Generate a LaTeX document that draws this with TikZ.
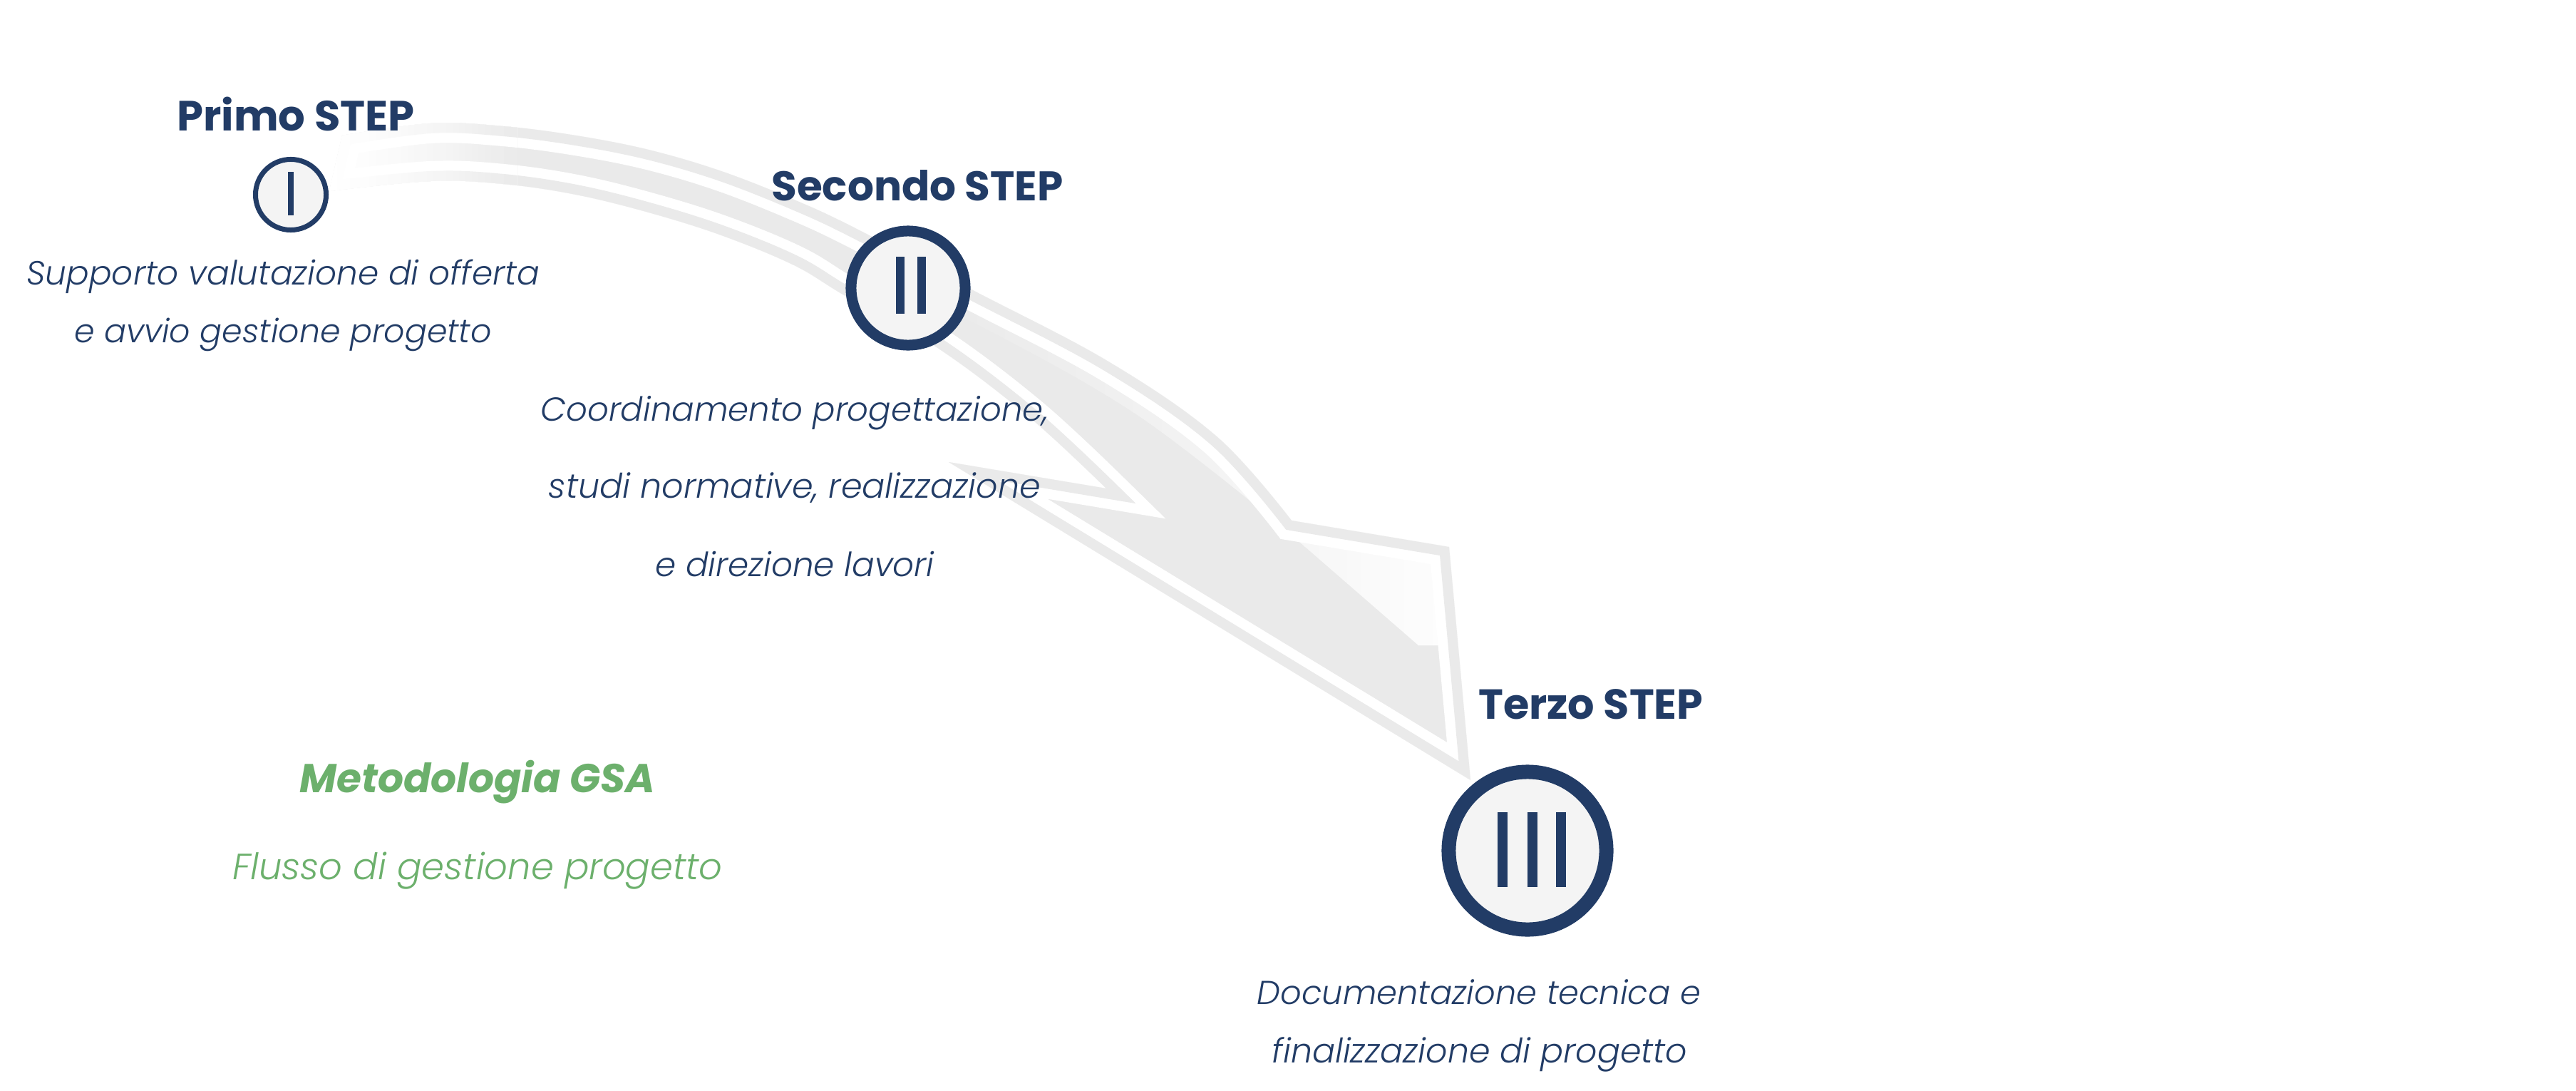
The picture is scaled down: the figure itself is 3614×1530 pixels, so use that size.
\documentclass[tikz,border=0pt]{standalone}
\usepackage{fontspec}
\setmainfont{Poppins}
\newfontfamily\descfont{Poppins Light Italic}
\definecolor{navy}{RGB}{34,60,102}
\definecolor{arrowgray}{RGB}{234,234,234}
\definecolor{circfill}{RGB}{244,244,244}
\definecolor{gsagreen}{RGB}{108,176,108}
\newcommand{\fitw}[2]{\resizebox{#1}{!}{#2}}
\begin{document}
\begin{tikzpicture}[x=0.01cm, y=-0.01cm,
  title/.style={anchor=base, inner sep=0pt, text=navy, font=\bfseries},
  desc/.style={anchor=base, inner sep=0pt, text=navy, font=\descfont},
  gsatitle/.style={anchor=base, inner sep=0pt, text=gsagreen, font=\bfseries\itshape},
  gsadesc/.style={anchor=base, inner sep=0pt, text=gsagreen, font=\descfont},
  ring/.style={circle, draw=navy, fill=circfill, inner sep=0pt},
  bar/.style={fill=navy},
  gapline/.style={white, line width=0.56cm, line join=miter},
  bandline/.style={line width=0.28cm, line join=miter}]
\useasboundingbox (0,0) rectangle (3614,1530);
\fill[white] (0,0) rectangle (3614,1530);

% ---- swoosh arrow ----
\path[save path=\arrowP]
  plot[smooth, tension=0.6] coordinates {(480,190) (604,173) (706,177) (808,190) (910,210) (1012,240) (1114,280) (1200,320) (1361,405) (1555,507) (1708,613) (1812,730)}
  -- (2033,767) -- (2063,1094) -- (1331,648)
  -- plot[smooth, tension=0.6] coordinates {(1552,685) (1444,585) (1314,487) (1186,415) (1114,372) (1012,330) (910,298) (808,273) (706,258) (604,254) (462,268)}
  -- cycle;
\begin{scope}
  \clip[use path=\arrowP];
  \fill[arrowgray] (0,0) rectangle (3614,1530);
  % glossy highlight, growing whiter towards the head
  \begin{scope}
    \clip plot[smooth, tension=0.6] coordinates {(1250,330) (1360,395) (1550,495) (1700,600) (1810,720)}
      -- (2045,760) -- (2045,905) -- (1990,905)
      -- plot[smooth, tension=0.6] coordinates {(1800,740) (1600,585) (1400,470) (1250,400)} -- cycle;
    \foreach \i in {0,...,39} {
      \pgfmathtruncatemacro\pc{95*((\i+0.5)/40)^1.3}
      \fill[white!\pc!arrowgray] ({1250+\i*20},300) rectangle ({1271+\i*20},950);
    }
  \end{scope}
  \draw[gapline, use path=\arrowP];
  \draw[bandline, arrowgray, use path=\arrowP];
\end{scope}
% tail fading into the background (opaque colour steps)
\foreach \i in {0,...,29} {
  \pgfmathtruncatemacro\pc{100*((\i+0.5)/30)^1.4}
  \begin{scope}
    \clip ({455+\i*9},130) rectangle ({464.5+\i*9},310);
    \clip[use path=\arrowP];
    \fill[arrowgray!\pc!white] (400,100) rectangle (800,350);
    \draw[gapline, use path=\arrowP];
    \draw[bandline, arrowgray!\pc!white, use path=\arrowP];
  \end{scope}
}

% ---- circles ----
\node[ring, line width=0.07cm, minimum size=0.99cm] (c1) at (408,273) {};
\node[ring, line width=0.15cm, minimum size=1.60cm] (c2) at (1274,404) {};
\node[ring, line width=0.20cm, minimum size=2.21cm] (c3) at (2143,1193) {};
\fill[bar] (404,241) rectangle (412,302);
\fill[bar] (1256.5,360) rectangle (1268.5,440);
\fill[bar] (1287,360) rectangle (1299,440);
\fill[bar] (2101,1139) rectangle (2115,1244);
\fill[bar] (2143,1139) rectangle (2157,1244);
\fill[bar] (2183,1139) rectangle (2197,1244);

% ---- texts ----
\node[title] (t1) at (415,183) {\fitw{3.33cm}{Primo STEP}};
\node[title] (t2) at (1287,281) {\fitw{4.09cm}{Secondo STEP}};
\node[title] (t3) at (2232,1008) {\fitw{3.15cm}{Terzo STEP}};
\node[desc] (d1a) at (397,399) {\fitw{7.19cm}{Supporto valutazione di offerta}};
\node[desc] (d1b) at (397,480) {\fitw{5.85cm}{e avvio gestione progetto}};
\node[desc] (d2a) at (1115,590) {\fitw{7.13cm}{Coordinamento progettazione,}};
\node[desc] (d2b) at (1115,698) {\fitw{6.90cm}{studi normative, realizzazione}};
\node[desc] (d2c) at (1115,808) {\fitw{3.91cm}{e direzione lavori}};
\node[desc] (d3a) at (2075,1408) {\fitw{6.22cm}{Documentazione tecnica e}};
\node[desc] (d3b) at (2076,1490) {\fitw{5.82cm}{finalizzazione di progetto}};
\node[gsatitle] (m1) at (670,1111) {\fitw{4.99cm}{Metodologia GSA}};
\node[gsadesc] (m2) at (670,1233) {\fitw{6.87cm}{Flusso di gestione progetto}};
\end{tikzpicture}
\end{document}
